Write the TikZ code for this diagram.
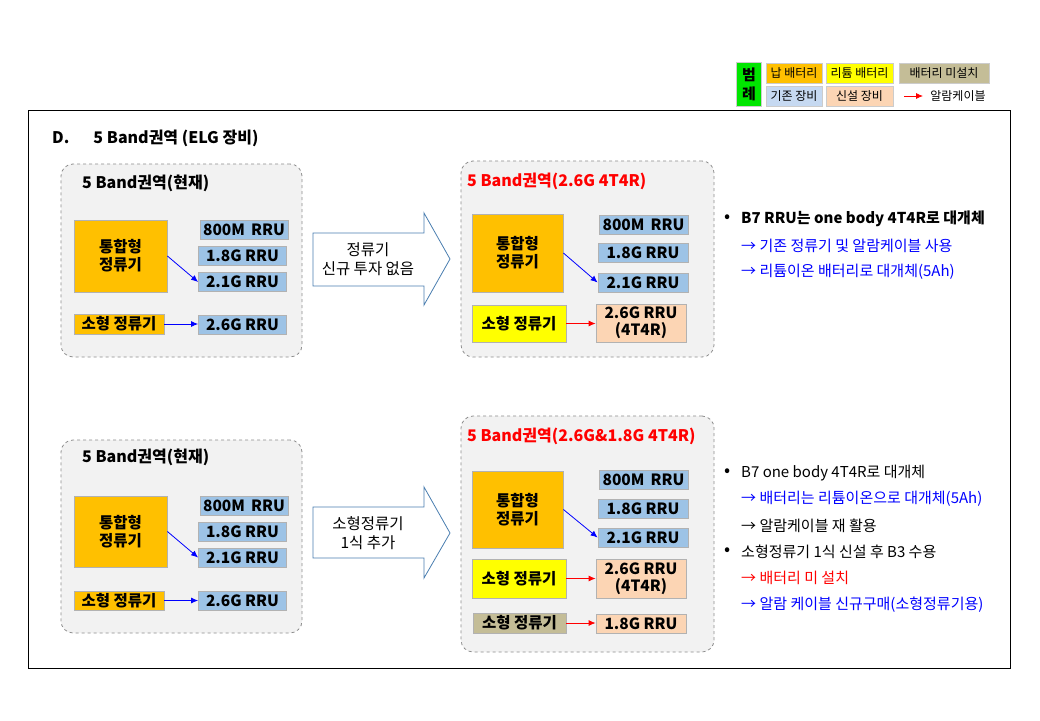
\documentclass[tikz,border=0pt]{standalone}
\usepackage{fontspec}
\setmainfont{Noto Sans CJK KR}
\usetikzlibrary{arrows.meta}
\definecolor{leadbat}{HTML}{FFC000}
\definecolor{libat}{HTML}{FFFF00}
\definecolor{nobat}{HTML}{C4BD97}
\definecolor{oldeq}{HTML}{C6D9F1}
\definecolor{rrublue}{HTML}{9DC3E6}
\definecolor{neweq}{HTML}{FCD5B4}
\definecolor{legendgreen}{HTML}{00E600}
\definecolor{grpfill}{HTML}{F2F2F2}
\definecolor{steel}{HTML}{4A7EB0}
\definecolor{txtblue}{HTML}{0000FF}
\definecolor{txtred}{HTML}{FF0000}
\begin{document}
\begin{tikzpicture}[x=1pt, y=-1pt,
    box/.style={rectangle, draw=gray!60, line width=0.8pt, inner sep=0pt, align=center, font=\fontsize{15.5}{18}\selectfont\bfseries},
    rru/.style={box, fill=rrublue, minimum width=88pt, minimum height=19pt},
    newrru/.style={box, fill=neweq, minimum width=90pt},
    rect/.style={box, fill=leadbat},
    grp/.style={rectangle, draw=gray!90, dashed, fill=grpfill, rounded corners=12pt, line width=0.8pt},
    grptitle/.style={anchor=west, inner sep=0pt, font=\fontsize{16}{19}\selectfont\bfseries},
    legend/.style={rectangle, draw=gray!40, line width=0.8pt, inner sep=0pt, minimum height=20pt, align=center, font=\fontsize{12}{14}\selectfont},
    note/.style={anchor=west, inner sep=0pt, font=\fontsize{15}{18}\selectfont},
    dot/.style={anchor=east, inner sep=0pt, font=\fontsize{18}{18}\selectfont},
    bigarrow/.style={draw=steel, fill=white, line width=0.8pt},
    steptext/.style={align=center, font=\fontsize{15.5}{19}\selectfont},
    bluearrow/.style={-{Latex[length=7pt,width=6pt]}, txtblue, line width=0.8pt},
    redarrow/.style={-{Latex[length=7pt,width=6pt]}, txtred, line width=0.8pt},
]
\useasboundingbox (0,0) rectangle (1040,720);

% legend
\node[legend, fill=legendgreen, minimum width=25pt, minimum height=44pt, font=\fontsize{15}{19}\selectfont\bfseries] (lg) at (749,84) {범\\례};
\node[legend, fill=leadbat, minimum width=56pt] (lgLead) at (794,73) {납 배터리};
\node[legend, fill=libat, minimum width=67pt] (lgLi) at (859.5,73) {리튬 배터리};
\node[legend, fill=nobat, minimum width=90pt] (lgNo) at (944,73) {배터리 미설치};
\node[legend, fill=oldeq, minimum width=56pt] (lgOld) at (794,96) {기존 장비};
\node[legend, fill=neweq, minimum width=67pt] (lgNew) at (859.5,96) {신설 장비};
\node[legend, draw=none, anchor=west] (lgCable) at (930,96) {알람케이블};
\coordinate (lgA) at (904,96);
\draw[redarrow] (lgA) -- (923,96);

% frame and title
\draw[line width=0.9pt] (28,110) rectangle (1010,668);
\node[grptitle] (title) at (52,138) {D.\hspace{1.5em}5 Band권역 (ELG 장비)};

% ---- top row ----
\node[grp, minimum width=241pt, minimum height=193pt] (g1) at (181.5,260.5) {};
\node[grptitle] (g1t) at (82,183) {5 Band권역(현재)};
\node[rect, minimum width=93pt, minimum height=72pt] (tlInt) at (120.5,256) {통합형\\정류기};
\node[rru] (tl800) at (244,229.5) {800M\hspace{0.4em}RRU};
\node[rru] (tl18) at (242.5,256) {1.8G RRU};
\node[rru] (tl21) at (242.5,282) {2.1G RRU};
\node[rect, minimum width=90pt, minimum height=20pt] (tlSmall) at (119,324) {소형 정류기};
\node[rru] (tl26) at (242.5,325) {2.6G RRU};
\draw[bluearrow] (tlInt.east) -- (tl21.west);
\draw[bluearrow] (tlSmall.east) -- (tlSmall.east -| tl26.west);

\draw[bigarrow] (313,233) -- (424,233) -- (424,213) -- (450,259) -- (424,305) -- (424,286) -- (313,286) -- cycle;
\node[steptext] (step1) at (368,259) {정류기\\신규 투자 없음};

\node[grp, minimum width=253pt, minimum height=196pt] (g2) at (587.5,259) {};
\node[grptitle, text=txtred] (g2t) at (467,181) {5 Band권역(2.6G 4T4R)};
\node[rect, minimum width=91pt, minimum height=78pt] (trInt) at (517.5,253) {통합형\\정류기};
\node[rru, minimum width=89pt] (tr800) at (643.5,224.5) {800M\hspace{0.4em}RRU};
\node[rru, minimum width=90pt] (tr18) at (643,253) {1.8G RRU};
\node[rru, minimum width=90pt] (tr21) at (643,282.5) {2.1G RRU};
\node[box, fill=libat, minimum width=94pt, minimum height=37pt] (trSmall) at (519,323.5) {소형 정류기};
\node[newrru, minimum height=38pt, font=\fontsize{15.5}{17}\selectfont\bfseries] (tr26) at (641,323) {2.6G RRU\\(4T4R)};
\draw[bluearrow] (trInt.east) -- (tr21.west);
\draw[redarrow] (trSmall.east) -- (trSmall.east -| tr26.west);

\node[note] (n1) at (741,219) {\bfseries B7 RRU는 one body 4T4R로 대개체};
\node[dot] (b1) at (731,219) {•};
\node[note, text=txtblue] (n2) at (741,246) {→ 기존 정류기 및 알람케이블 사용};
\node[note, text=txtblue] (n3) at (741,272) {→ 리튬이온 배터리로 대개체(5Ah)};

% ---- bottom row ----
\node[grp, minimum width=241pt, minimum height=193pt] (g3) at (181.5,536.5) {};
\node[grptitle] (g3t) at (82,457) {5 Band권역(현재)};
\node[rect, minimum width=93pt, minimum height=71pt] (blInt) at (120.5,531.5) {통합형\\정류기};
\node[rru] (bl800) at (244,506) {800M\hspace{0.4em}RRU};
\node[rru] (bl18) at (242.5,531.5) {1.8G RRU};
\node[rru] (bl21) at (242.5,557.5) {2.1G RRU};
\node[rect, minimum width=90pt, minimum height=19pt] (blSmall) at (119,600.5) {소형 정류기};
\node[rru] (bl26) at (242.5,601) {2.6G RRU};
\draw[bluearrow] (blInt.east) -- (bl21.west);
\draw[bluearrow] (blSmall.east) -- (blSmall.east -| bl26.west);

\draw[bigarrow] (313,507) -- (424,507) -- (424,487) -- (450,533) -- (424,578) -- (424,558) -- (313,558) -- cycle;
\node[steptext] (step2) at (368,533) {소형정류기\\1식 추가};

\node[grp, minimum width=253pt, minimum height=236pt] (g4) at (587.5,534) {};
\node[grptitle, text=txtred] (g4t) at (467,436) {5 Band권역(2.6G\&1.8G 4T4R)};
\node[rect, minimum width=91pt, minimum height=77pt] (brInt) at (517.5,509.5) {통합형\\정류기};
\node[rru, minimum width=89pt] (br800) at (643.5,479.5) {800M\hspace{0.4em}RRU};
\node[rru, minimum width=90pt] (br18) at (643,508.5) {1.8G RRU};
\node[rru, minimum width=90pt] (br21) at (643,537.5) {2.1G RRU};
\node[box, fill=libat, minimum width=94pt, minimum height=39pt] (brSmall) at (519,578.5) {소형 정류기};
\node[newrru, minimum height=39pt, font=\fontsize{15.5}{17}\selectfont\bfseries] (br26) at (641,578.5) {2.6G RRU\\(4T4R)};
\node[box, fill=nobat, minimum width=93pt, minimum height=20pt] (brSmall2) at (519.5,623) {소형 정류기};
\node[newrru, minimum height=19pt] (br18n) at (641,623.5) {1.8G RRU};
\draw[bluearrow] (brInt.east) -- (br21.west);
\draw[redarrow] (brSmall.east) -- (brSmall.east -| br26.west);
\draw[redarrow] (brSmall2.east) -- (brSmall2.east -| br18n.west);

\node[note] (m1) at (741,473) {B7 one body 4T4R로 대개체};
\node[dot] (c1) at (731,473) {•};
\node[note, text=txtblue] (m2) at (741,499) {→ 배터리는 리튬이온으로 대개체(5Ah)};
\node[note] (m3) at (741,526) {→ 알람케이블 재 활용};
\node[note] (m4) at (741,552) {소형정류기 1식 신설 후 B3 수용};
\node[dot] (c2) at (731,552) {•};
\node[note, text=txtred] (m5) at (741,578) {→ 배터리 미 설치};
\node[note, text=txtblue] (m6) at (741,605) {→ 알람 케이블 신규구매(소형정류기용)};
\end{tikzpicture}
\end{document}
